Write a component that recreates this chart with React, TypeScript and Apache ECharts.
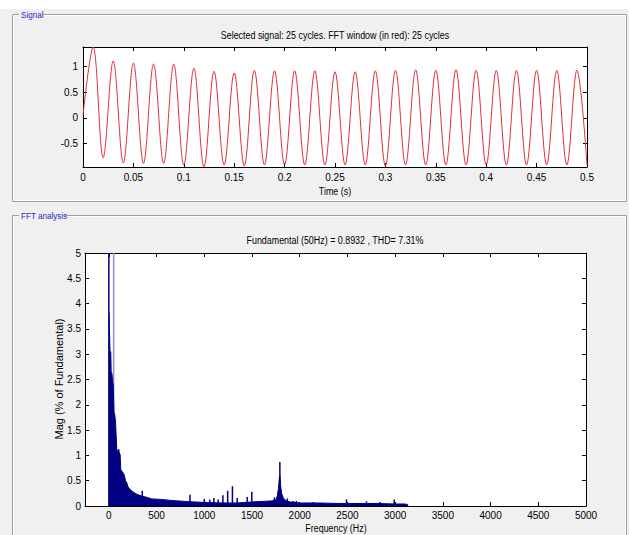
import React, { useEffect, useRef } from "react";
import * as echarts from "echarts";

// ---------- data ----------
const signalTitle = "Selected signal: 25 cycles. FFT window (in red): 25 cycles";
const fftTitle = "Fundamental (50Hz) = 0.8932 , THD= 7.31%";
const timeName = "Time (s)";
const freqName = "Frequency (Hz)";
const magName = "Mag (% of Fundamental)";
const signalPanelName = "Signal";
const fftPanelName = "FFT analysis";

// 50 Hz signal: extremes every half period (s)
const halfPeriod = 0.01;
const signalStart = 0.05;
const peakValues = [
  1.37, 1.1, 1.06, 1.04, 1.04, 0.96, 0.9, 0.87, 0.92, 0.91, 0.91, 0.91, 0.89,
  0.89, 0.91, 0.92, 0.93, 0.92, 0.93, 0.92, 0.92, 0.92, 0.92, 0.92, 0.92,
];
const troughValues = [
  -0.77, -0.87, -0.88, -0.88, -0.91, -0.95, -0.91, -0.93, -0.91, -0.91, -0.91,
  -0.91, -0.91, -0.91, -0.93, -0.91, -0.91, -0.91, -0.91, -0.91, -0.91, -0.91,
  -0.91, -0.91, -0.91,
];
const timeMin = 0;
const timeMax = 0.5;
const timeInterval = 0.05;
const signalMin = -0.95;
const signalMax = 1.37;
const signalTicks = [-0.5, 0, 0.5, 1];

// FFT spectrum (% of fundamental)
const freqMin = -250;
const freqMax = 5000;
const freqTicks = [0, 500, 1000, 1500, 2000, 2500, 3000, 3500, 4000, 4500, 5000];
const magMin = 0;
const magMax = 5;
const magInterval = 0.5;

const envFreq = [
  2, 8, 12, 20, 24, 32, 40, 46, 54, 62, 70, 76, 84, 100, 118, 125, 140, 160, 175,
  190, 200, 225, 260, 295, 340, 400, 450, 550, 650, 800, 900, 1000, 1200, 1350,
  1500, 1600, 1700, 1750, 1765, 1778, 1786, 1792, 1800, 1810, 1830, 1860, 1900,
  2000, 2200, 2400, 2600, 2800, 3000, 3100, 3130, 3134,
];
const envMag = [
  3.82, 3.82, 3.05, 3.05, 2.65, 2.62, 2.45, 2.4, 1.85, 1.8, 1.66, 1.4, 1.1, 1.08,
  1.02, 0.72, 0.68, 0.62, 0.5, 0.45, 0.38, 0.32, 0.27, 0.23, 0.2, 0.17, 0.14,
  0.13, 0.11, 0.09, 0.08, 0.07, 0.06, 0.06, 0.08, 0.09, 0.1, 0.12, 0.2, 0.35,
  0.55, 0.6, 0.4, 0.25, 0.15, 0.1, 0.08, 0.06, 0.06, 0.05, 0.05, 0.05, 0.04,
  0.04, 0.03, 0,
];
const spikeFreq = [
  104, 350, 850, 1000, 1058, 1100, 1145, 1195, 1245, 1295, 1345, 1450, 1498,
  1735, 1792, 1870, 1930, 1965, 2140, 2490, 2700, 2840, 2990,
];
const spikeMag = [
  1.12, 0.3, 0.22, 0.14, 0.13, 0.16, 0.13, 0.21, 0.3, 0.39, 0.16, 0.18, 0.28,
  0.17, 0.87, 0.15, 0.1, 0.1, 0.08, 0.13, 0.09, 0.08, 0.13,
];
const dcFreq = 0;
const dcMag = 12;
const fundFreq = 50;
const fundMag = 100;

// ---------- styles ----------
const FONT = "'Liberation Sans', Arial, sans-serif";
const NAVY = "#000080";
const FUND = "#8c8cd8";
const PANEL = "#f0f0f0";
const NARROW = 0.81;

function buildSignal() {
  const pts: [number, number][] = [[0, signalStart]];
  for (let k = 0; k < peakValues.length; k++) {
    pts.push([halfPeriod * (2 * k + 1), peakValues[k]]);
    pts.push([halfPeriod * (2 * k + 2), troughValues[k]]);
  }
  return pts;
}

const tickStyle = (custom?: number[]) => ({
  show: true,
  inside: true,
  length: 4,
  lineStyle: { color: "#000" },
  ...(custom ? { customValues: custom } : {}),
});

function boxAxis(extra: any) {
  return {
    type: "value",
    splitLine: { show: false },
    axisLine: { show: true, onZero: false, lineStyle: { color: "#000", width: 1 } },
    axisTick: tickStyle(),
    axisLabel: { show: false },
    ...extra,
  };
}

const labelStyle = { color: "#000", fontSize: 10, fontFamily: FONT };
const plain = (v: number) => String(+v.toFixed(4));

function narrowText(text: string, x: number, y: number, extra: any = {}) {
  return {
    type: "text",
    x,
    y,
    scaleX: NARROW,
    style: {
      text,
      fill: "#000",
      font: "11px " + FONT,
      align: "center",
      verticalAlign: "middle",
    },
    ...extra,
  };
}

export default function App() {
  const ref = useRef<HTMLDivElement>(null);
  useEffect(() => {
    if (!ref.current) return;
    const chart = echarts.init(ref.current, undefined, { renderer: "svg" });

    const fftBars: any[] = [
      [dcFreq, dcMag],
      ...spikeFreq.map((f, i) => [f, spikeMag[i]]),
    ];

    const option: any = {
      animation: false,
      backgroundColor: PANEL,
      textStyle: { fontFamily: FONT },
      grid: [
        { left: 83, top: 47, width: 504, height: 120, show: true, backgroundColor: "#fff", borderWidth: 0 },
        { left: 85, top: 253, width: 501, height: 253, show: true, backgroundColor: "#fff", borderWidth: 0 },
      ],
      xAxis: [
        boxAxis({
          gridIndex: 0,
          position: "bottom",
          min: timeMin,
          max: timeMax,
          interval: timeInterval,
          axisLabel: { show: true, margin: 5, formatter: plain, ...labelStyle },
        }),
        boxAxis({ gridIndex: 0, position: "top", min: timeMin, max: timeMax, interval: timeInterval }),
        boxAxis({
          gridIndex: 1,
          position: "bottom",
          min: freqMin,
          max: freqMax,
          axisTick: tickStyle(freqTicks),
          axisLabel: { show: true, margin: 4, customValues: freqTicks, formatter: plain, ...labelStyle },
        }),
        boxAxis({
          gridIndex: 1,
          position: "top",
          min: freqMin,
          max: freqMax,
          axisTick: tickStyle(freqTicks),
        }),
      ],
      yAxis: [
        boxAxis({
          gridIndex: 0,
          position: "left",
          min: signalMin,
          max: signalMax,
          axisTick: tickStyle(signalTicks),
          axisLabel: { show: true, margin: 5, customValues: signalTicks, formatter: plain, ...labelStyle },
        }),
        boxAxis({
          gridIndex: 0,
          position: "right",
          min: signalMin,
          max: signalMax,
          axisTick: tickStyle(signalTicks),
        }),
        boxAxis({
          gridIndex: 1,
          position: "left",
          min: magMin,
          max: magMax,
          interval: magInterval,
          axisLabel: { show: true, margin: 4, formatter: plain, ...labelStyle },
        }),
        boxAxis({ gridIndex: 1, position: "right", min: magMin, max: magMax, interval: magInterval }),
      ],
      series: [
        {
          type: "line",
          xAxisIndex: 0,
          yAxisIndex: 0,
          data: buildSignal(),
          smooth: 0.36,
          showSymbol: false,
          symbol: "none",
          lineStyle: { color: "#e0303c", width: 1 },
          clip: true,
        },
        {
          type: "bar",
          xAxisIndex: 2,
          yAxisIndex: 2,
          data: [[fundFreq, fundMag]],
          barWidth: 1.5,
          barGap: "-100%",
          itemStyle: { color: FUND },
          clip: true,
          z: 1,
        },
        {
          type: "line",
          xAxisIndex: 2,
          yAxisIndex: 2,
          data: envFreq.map((f, i) => [f, envMag[i]]),
          showSymbol: false,
          symbol: "none",
          lineStyle: { color: NAVY, width: 1 },
          areaStyle: { color: NAVY, opacity: 1 },
          z: 2,
        },
        {
          type: "bar",
          xAxisIndex: 2,
          yAxisIndex: 2,
          data: fftBars,
          barWidth: 1.5,
          barGap: "-100%",
          itemStyle: { color: NAVY },
          clip: true,
          z: 3,
        },
      ],
      graphic: [
        { type: "rect", shape: { x: 0, y: 0, width: 629, height: 9 }, style: { fill: "#fff" }, z: -1 },
        // Signal panel frame (etched)
        { type: "rect", shape: { x: 12.5, y: 14.5, width: 614, height: 187 }, style: { fill: "none", stroke: "#a0a0a0", lineWidth: 1 } },
        { type: "rect", shape: { x: 13.5, y: 15.5, width: 612, height: 185 }, style: { fill: "none", stroke: "#ffffff", lineWidth: 1 } },
        { type: "rect", shape: { x: 19, y: 9, width: 24, height: 11 }, style: { fill: PANEL } },
        { type: "text", x: 21, y: 15, scaleX: 0.9, style: { text: signalPanelName, fill: "#2828c8", font: "9px " + FONT, verticalAlign: "middle" } },
        // FFT panel frame (etched)
        { type: "rect", shape: { x: 12.5, y: 215.5, width: 614, height: 330 }, style: { fill: "none", stroke: "#a0a0a0", lineWidth: 1 } },
        { type: "rect", shape: { x: 13.5, y: 216.5, width: 612, height: 330 }, style: { fill: "none", stroke: "#ffffff", lineWidth: 1 } },
        { type: "rect", shape: { x: 19, y: 210, width: 46, height: 11 }, style: { fill: PANEL } },
        { type: "text", x: 21, y: 216, scaleX: 0.9, style: { text: fftPanelName, fill: "#2828c8", font: "9px " + FONT, verticalAlign: "middle" } },
        // titles and axis names
        narrowText(signalTitle, 335, 35),
        narrowText(fftTitle, 335, 240),
        narrowText(timeName, 335, 191),
        narrowText(freqName, 336, 528),
        {
          type: "text",
          x: 59,
          y: 379,
          rotation: Math.PI / 2,
          style: {
            text: magName,
            fill: "#000",
            font: "11px " + FONT,
            align: "center",
            verticalAlign: "middle",
          },
        },
      ],
    };
    chart.setOption(option);
    return () => chart.dispose();
  }, []);

  return (
    <div
      ref={ref}
      style={{ position: "fixed", left: 0, top: 0, width: 629, height: 535 }}
    />
  );
}
